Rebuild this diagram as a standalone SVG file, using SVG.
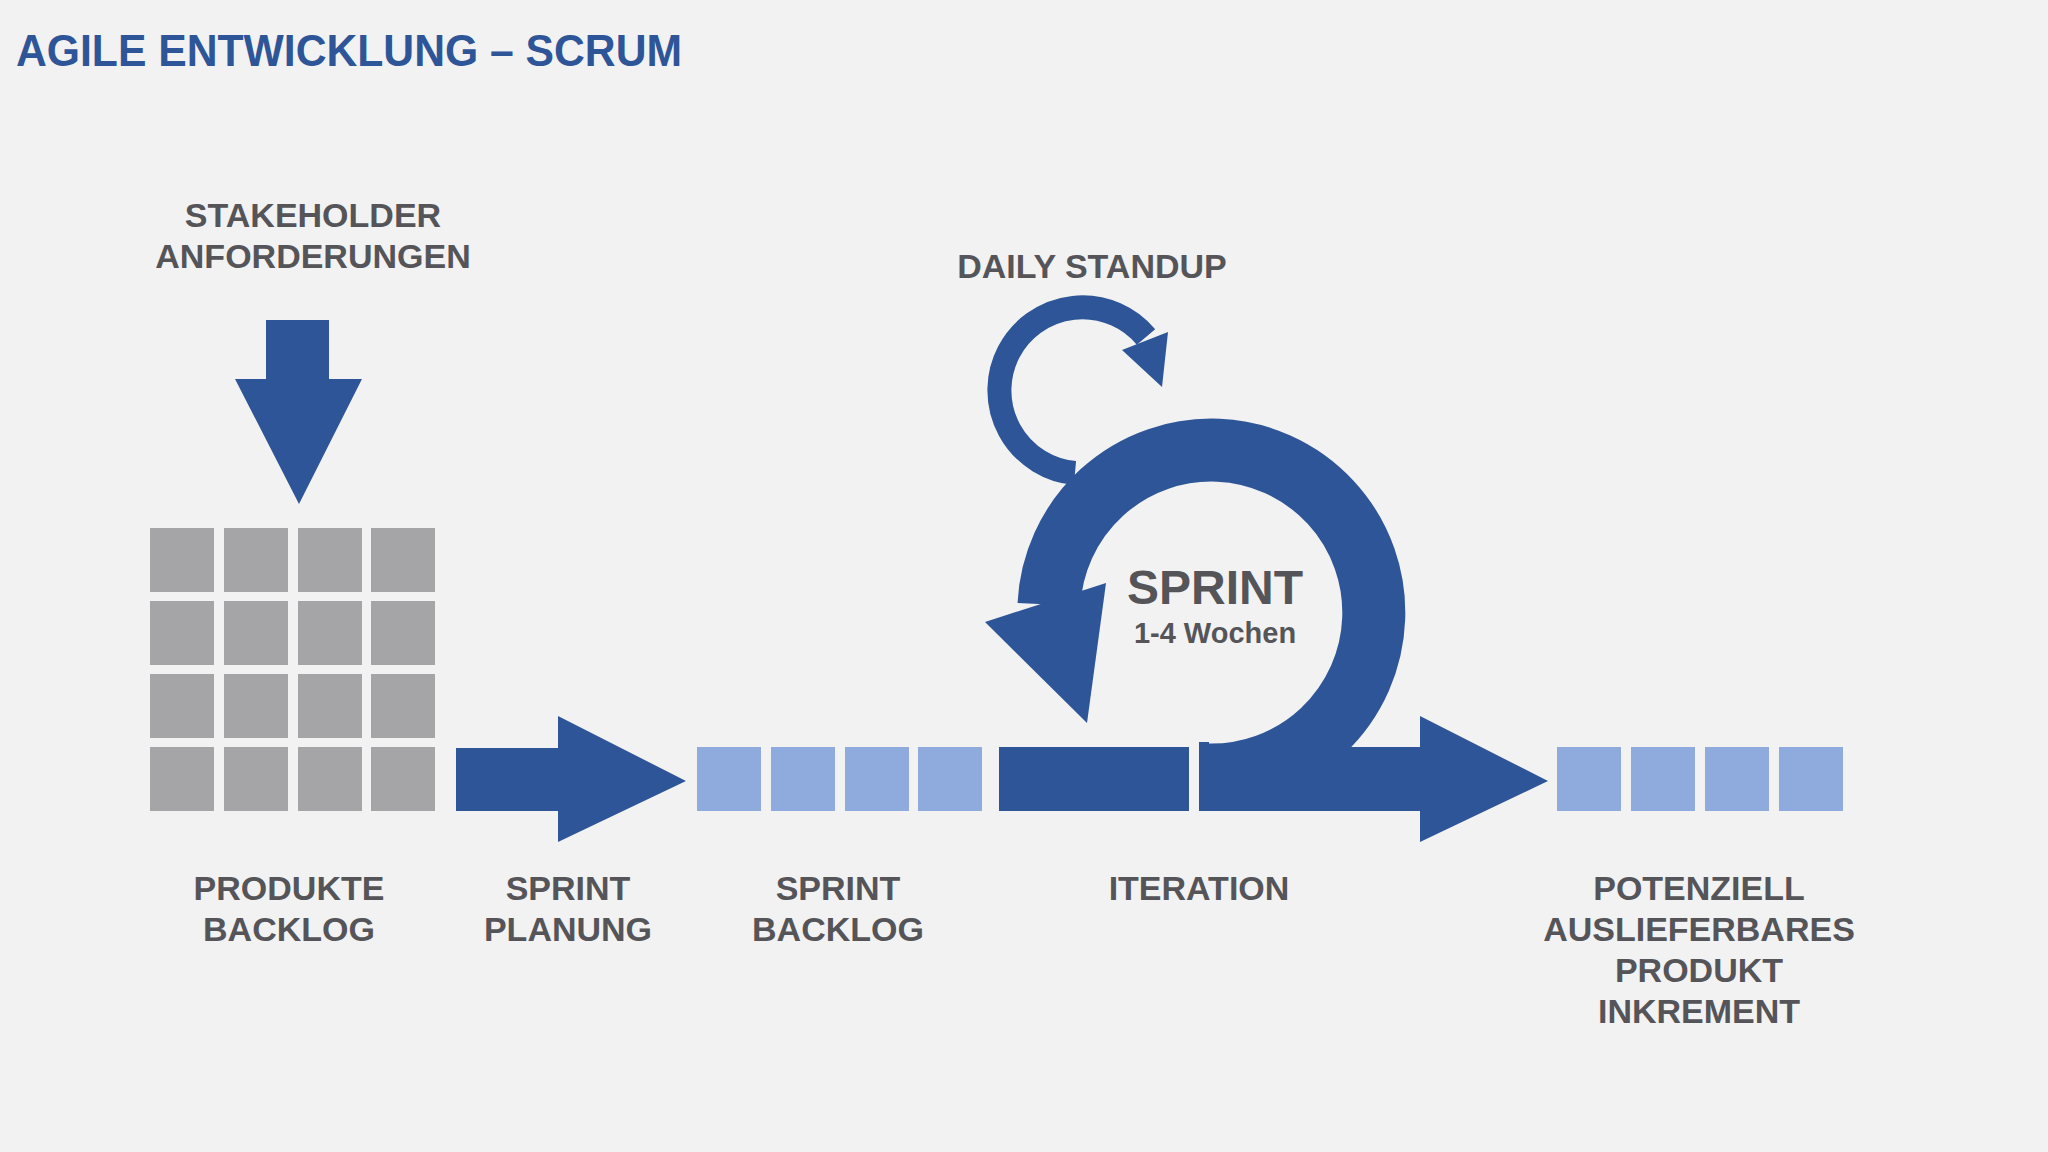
<svg xmlns="http://www.w3.org/2000/svg" width="2048" height="1152" viewBox="0 0 2048 1152">
<style>
.b{fill:#2e5597}.l{fill:#8faadc}.g{fill:#a5a5a7}
.t{font-family:"Liberation Sans",Arial,sans-serif;font-weight:bold;fill:#555559;font-size:34px;text-anchor:middle}
</style>
<rect width="2048" height="1152" fill="#f2f2f3"/>
<text x="16" y="66" font-family="Liberation Sans,Arial,sans-serif" font-weight="bold" font-size="45" fill="#2e5597" textLength="666" lengthAdjust="spacingAndGlyphs">AGILE ENTWICKLUNG – SCRUM</text>
<g id="stakeholder">
<text class="t" x="313" y="227">STAKEHOLDER</text>
<text class="t" x="313" y="268">ANFORDERUNGEN</text>
<polygon class="b" points="266,320 329,320 329,379 362,379 299,504 235,379 266,379"/>
</g>
<g id="produkte-backlog">
<g class="g">
<rect x="150" y="528" width="64" height="64"/><rect x="224" y="528" width="64" height="64"/><rect x="298" y="528" width="64" height="64"/><rect x="371" y="528" width="64" height="64"/>
<rect x="150" y="601" width="64" height="64"/><rect x="224" y="601" width="64" height="64"/><rect x="298" y="601" width="64" height="64"/><rect x="371" y="601" width="64" height="64"/>
<rect x="150" y="674" width="64" height="64"/><rect x="224" y="674" width="64" height="64"/><rect x="298" y="674" width="64" height="64"/><rect x="371" y="674" width="64" height="64"/>
<rect x="150" y="747" width="64" height="64"/><rect x="224" y="747" width="64" height="64"/><rect x="298" y="747" width="64" height="64"/><rect x="371" y="747" width="64" height="64"/>
</g>
<text class="t" x="289" y="900">PRODUKTE</text>
<text class="t" x="289" y="941">BACKLOG</text>
</g>
<g id="sprint-planung">
<polygon class="b" points="456,748 558,748 558,716 686,781 558,842 558,811 456,811"/>
<text class="t" x="568" y="900">SPRINT</text>
<text class="t" x="568" y="941">PLANUNG</text>
</g>
<g id="sprint-backlog">
<g class="l">
<rect x="697" y="747" width="64" height="64"/><rect x="771" y="747" width="64" height="64"/><rect x="845" y="747" width="64" height="64"/><rect x="918" y="747" width="64" height="64"/>
</g>
<text class="t" x="838" y="900">SPRINT</text>
<text class="t" x="838" y="941">BACKLOG</text>
</g>
<g id="iteration">
<rect class="b" x="999" y="747" width="190" height="64"/>
<text class="t" x="1199" y="900">ITERATION</text>
</g>
<g id="sprint">
<path d="M1206,775 A162.5,162.5 0 1 0 1049,604.5" fill="none" stroke="#2e5597" stroke-width="63"/>
<rect class="b" x="1199" y="742" width="10" height="8"/>
<polygon class="b" points="985,622 1106,583 1087,723"/>
<polygon class="b" points="1199,747 1420,747 1420,716 1548,781 1420,842 1420,811 1199,811"/>
<path d="M1075,473 A83,83 0 1 1 1146,337" fill="none" stroke="#2e5597" stroke-width="24"/>
<polygon class="b" points="1122,350 1168,332 1162,387"/>
<text class="t" x="1215" y="604" style="font-size:48px">SPRINT</text>
<text class="t" x="1215" y="643" style="font-size:29px">1-4 Wochen</text>
</g>
<g id="daily-standup">
<text class="t" x="1092" y="278">DAILY STANDUP</text>
</g>
<g id="inkrement">
<g class="l">
<rect x="1557" y="747" width="64" height="64"/><rect x="1631" y="747" width="64" height="64"/><rect x="1705" y="747" width="64" height="64"/><rect x="1779" y="747" width="64" height="64"/>
</g>
<text class="t" x="1699" y="900">POTENZIELL</text>
<text class="t" x="1699" y="941">AUSLIEFERBARES</text>
<text class="t" x="1699" y="982">PRODUKT</text>
<text class="t" x="1699" y="1023">INKREMENT</text>
</g>
<g id="connectors"></g>
</svg>
